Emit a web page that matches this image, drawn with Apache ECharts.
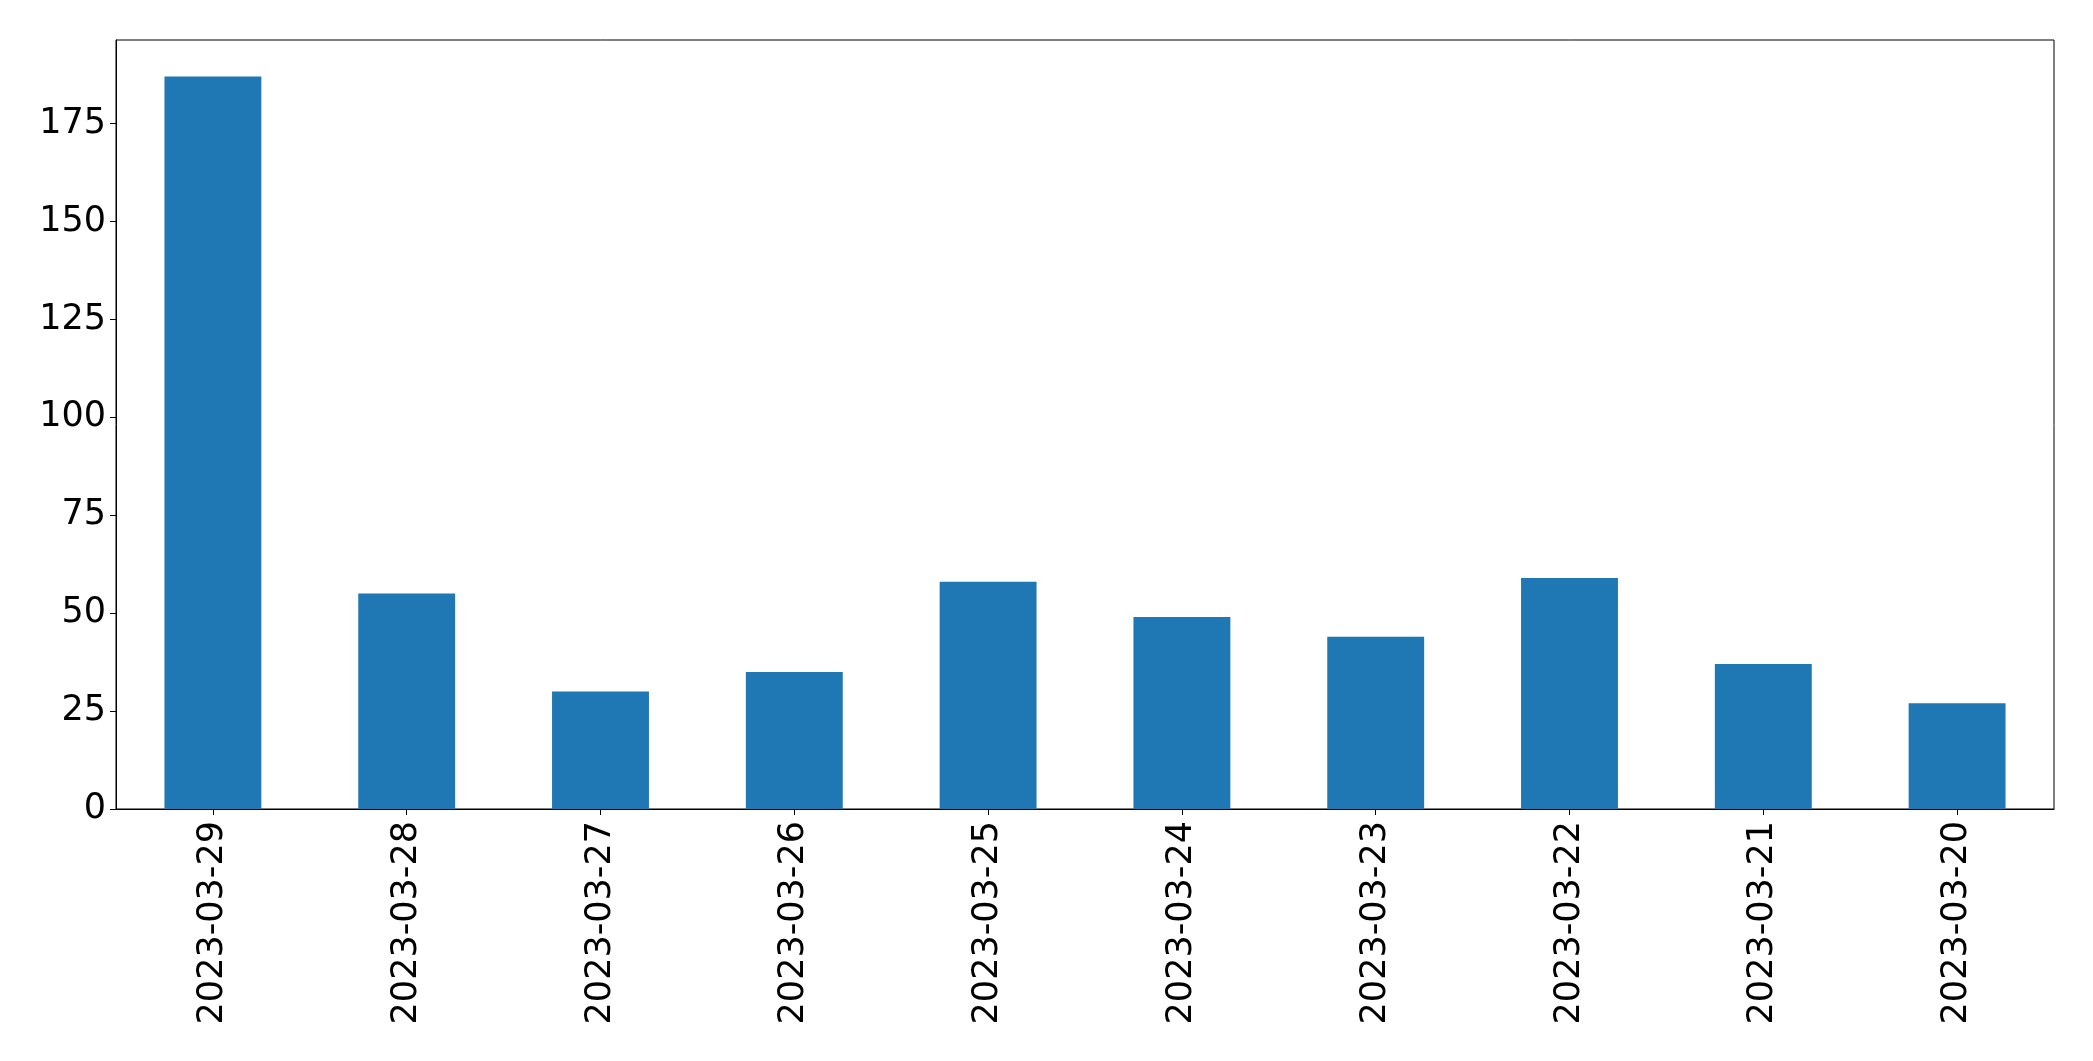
<!DOCTYPE html>
<html>
<head>
<meta charset="utf-8">
<script src="https://cdn.jsdelivr.net/npm/echarts@6/dist/echarts.min.js"></script>
<style>
html,body{margin:0;padding:0;background:#fff;}
#chart{width:2093px;height:1061px;}
</style>
</head>
<body>
<div id="chart"></div>
<script>
const categories = ['2023-03-29','2023-03-28','2023-03-27','2023-03-26','2023-03-25','2023-03-24','2023-03-23','2023-03-22','2023-03-21','2023-03-20'];
const values = [187, 55, 30, 35, 58, 49, 44, 59, 37, 27];
const yTicks = [0, 25, 50, 75, 100, 125, 150, 175];
const yMax = 196.35;

const chart = echarts.init(document.getElementById('chart'), null, {renderer: 'canvas'});
const font = 'DejaVu Sans';
chart.setOption({
  animation: false,
  backgroundColor: '#ffffff',
  grid: {
    left: 116, right: 39, top: 40, bottom: 252,
    show: true, borderColor: '#000', borderWidth: 1, backgroundColor: 'transparent'
  },
  xAxis: {
    type: 'category',
    data: categories,
    boundaryGap: true,
    axisLine: {show: true, lineStyle: {color: '#000', width: 1}},
    axisTick: {show: true, alignWithLabel: true, length: 6, lineStyle: {color: '#000', width: 1}},
    axisLabel: {
      rotate: 90, color: '#000', fontFamily: font, fontSize: 35, margin: 12, interval: 0
    },
    splitLine: {show: false}
  },
  yAxis: {
    type: 'value',
    min: 0,
    max: yMax,
    interval: 25,
    axisLine: {show: true, lineStyle: {color: '#000', width: 1}},
    axisTick: {show: true, length: 6, lineStyle: {color: '#000', width: 1}, customValues: yTicks},
    axisLabel: {color: '#000', fontFamily: font, fontSize: 35, margin: 10, customValues: yTicks},
    splitLine: {show: false}
  },
  series: [{
    type: 'bar',
    data: values,
    barWidth: '50%',
    itemStyle: {color: '#1f77b4'}
  }]
});
</script>
</body>
</html>
